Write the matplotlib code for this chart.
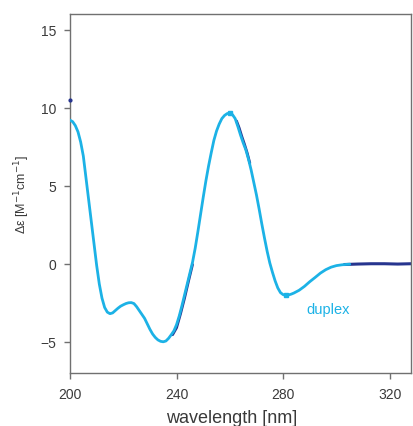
import matplotlib
matplotlib.use("Agg")
import matplotlib.pyplot as plt

plt.rcParams['font.family'] = ['Liberation Sans', 'DejaVu Sans']

# light-blue (duplex) spectrum
wl = [200, 201, 202, 203, 204, 205, 206, 207, 208, 209, 210, 211, 212, 213, 214,
      215, 216, 217, 218, 219, 220, 221, 222, 223, 224, 225, 226, 227, 228, 229,
      230, 231, 232, 233, 234, 235, 236, 237, 238, 239, 240, 241, 242, 243, 244,
      245, 246, 247, 248, 249, 250, 251, 252, 253, 254, 255, 256, 257, 258, 259,
      260, 261, 262, 263, 264, 265, 266, 267, 268, 269, 270, 271, 272, 273, 274,
      275, 276, 277, 278, 279, 280, 281, 282, 283, 284, 286, 288, 290, 292, 294,
      296, 298, 300, 302, 304, 305]
de = [9.2, 9.1, 8.85, 8.45, 7.8, 6.9, 5.5, 4.1, 2.7, 1.3, -0.1, -1.3, -2.2, -2.8, -3.1,
      -3.2, -3.15, -3.0, -2.85, -2.72, -2.63, -2.55, -2.5, -2.49, -2.55, -2.75, -3.0, -3.25, -3.5, -3.85,
      -4.2, -4.5, -4.72, -4.88, -4.97, -5.0, -4.95, -4.78, -4.55, -4.3, -3.9, -3.35, -2.7, -2.0, -1.3,
      -0.6, 0.1, 1.0, 2.05, 3.15, 4.25, 5.3, 6.25, 7.1, 7.9, 8.5, 8.95, 9.3, 9.5, 9.62,
      9.65, 9.55, 9.3, 8.8, 8.25, 7.75, 7.3, 6.7, 6.0, 5.2, 4.4, 3.5, 2.55, 1.65, 0.8,
      0.05, -0.55, -1.1, -1.55, -1.85, -1.98, -2.02, -2.0, -1.95, -1.88, -1.7, -1.45, -1.15, -0.88, -0.6,
      -0.38, -0.22, -0.12, -0.07, -0.04, -0.03]

# dark-blue segments of the second spectrum, visible where it departs from the first
dark1_wl = [238.5, 240, 241.5, 243, 244.5, 246]
dark1_de = [-4.55, -4.1, -3.2, -2.2, -1.1, -0.05]
dark2_wl = [262.5, 263.5, 264.5, 265.5, 266.5, 267.5]
dark2_de = [9.15, 8.7, 8.15, 7.65, 7.1, 6.45]
dark3_wl = [303, 308, 313, 318, 323, 328]
dark3_de = [-0.05, -0.02, 0.0, 0.0, -0.02, 0.0]
dark_dot_wl = [200]
dark_dot_de = [10.5]

marker_wl = [260, 281]
marker_de = [9.65, -2.02]

x_ticks = [200, 240, 280, 320]
y_ticks = [-5, 0, 5, 10, 15]

light = '#1cb2e6'
dark = '#27358f'
axis_grey = '#707070'
text_grey = '#3a3a3a'

fig = plt.figure(figsize=(4.14, 4.27), dpi=100)
ax = fig.add_axes([70/414, 1-374/427, 341/414, 359/427])

ax.plot(dark1_wl, dark1_de, color=dark, lw=2.0, solid_capstyle='round')
ax.plot(dark2_wl, dark2_de, color=dark, lw=2.0, solid_capstyle='round')
ax.plot(dark3_wl, dark3_de, color=dark, lw=2.2, solid_capstyle='round')
ax.plot(wl, de, color=light, lw=2.0, solid_capstyle='round', zorder=3)
ax.plot(marker_wl, marker_de, ls='none', marker='s', ms=3.5, color=light, zorder=4)
ax.plot(dark_dot_wl, dark_dot_de, ls='none', marker='o', ms=2, color=dark, zorder=4, clip_on=False)

ax.text(297, -2.9, 'duplex', color=light, fontsize=10.5, ha='center', va='center')

ax.set_xlim(200, 328)
ax.set_ylim(-7, 16)
ax.set_xticks(x_ticks)
ax.set_yticks(y_ticks)
ax.set_xticklabels([str(t) for t in x_ticks])
ax.set_yticklabels(['\u22125' if t < 0 else str(t) for t in y_ticks])

for s in ax.spines.values():
    s.set_color(axis_grey)
    s.set_linewidth(1.0)
ax.tick_params(direction='out', length=4, width=1, color=axis_grey,
               labelcolor=text_grey, labelsize=10, pad=6)

ax.set_xlabel('wavelength [nm]', fontsize=13, color=text_grey)
ax.xaxis.set_label_coords(0.474, -0.1)
ax.set_ylabel('\u0394\u03b5 [M$^{-1}$cm$^{-1}$]', fontsize=9, color=text_grey)
ax.yaxis.set_label_coords(-0.111, 0.5)

fig.savefig('out.png', dpi=100)
